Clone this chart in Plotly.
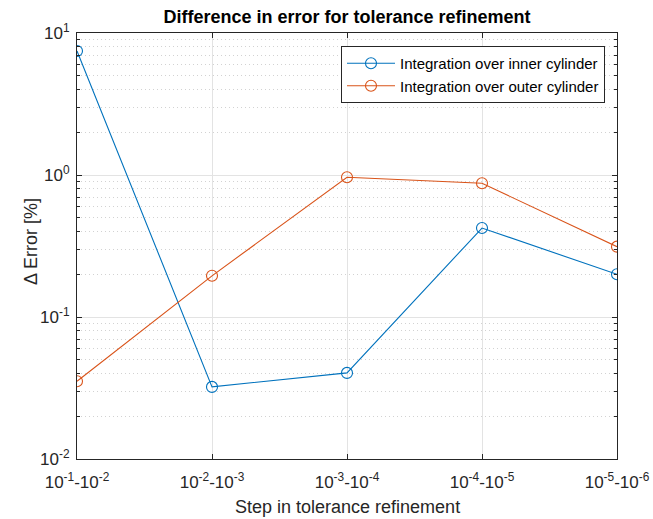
import plotly.graph_objects as go

# Tolerance refinement steps (categories on the x axis)
steps = [
    "10<sup>-1</sup>-10<sup>-2</sup>",
    "10<sup>-2</sup>-10<sup>-3</sup>",
    "10<sup>-3</sup>-10<sup>-4</sup>",
    "10<sup>-4</sup>-10<sup>-5</sup>",
    "10<sup>-5</sup>-10<sup>-6</sup>",
]
step_pos = [1, 2, 3, 4, 5]

# Difference in error [%] between successive tolerances
inner_cylinder = [7.47, 0.0322, 0.0404, 0.423, 0.200]
outer_cylinder = [0.0353, 0.195, 0.964, 0.874, 0.313]

y_tickvals = [0.01, 0.1, 1, 10]
y_ticktext = ["10<sup>-2</sup>", "10<sup>-1</sup>", "10<sup>0</sup>", "10<sup>1</sup>"]

BLUE = "#0072BD"
ORANGE = "#D95319"
AXIS = "#262626"
FONT = "Liberation Sans, Arial, Helvetica, sans-serif"

# plot-area placement in pixels
L, R, T, B = 77, 36, 33, 60
W, H = 653, 519
PW, PH = W - L - R, H - T - B

fig = go.Figure()
fig.add_trace(go.Scatter(
    x=step_pos, y=inner_cylinder, mode="lines+markers",
    name="Integration over inner cylinder",
    line=dict(color=BLUE, width=1.1),
    marker=dict(symbol="circle-open", size=11, color=BLUE, line=dict(width=1.1)),
))
fig.add_trace(go.Scatter(
    x=step_pos, y=outer_cylinder, mode="lines+markers",
    name="Integration over outer cylinder",
    line=dict(color=ORANGE, width=1.1),
    marker=dict(symbol="circle-open", size=11, color=ORANGE, line=dict(width=1.1)),
))

fig.update_layout(
    width=W, height=H,
    margin=dict(l=L, r=R, t=T, b=B, autoexpand=False),
    paper_bgcolor="white", plot_bgcolor="white",
    font=dict(family=FONT, color=AXIS, size=15),
    title=dict(
        text="<b>Difference in error for tolerance refinement</b>",
        x=(L + PW / 2) / W, xanchor="center",
        y=1 - 17 / H, yanchor="middle",
        font=dict(size=18, color="black"),
    ),
    showlegend=True,
    legend=dict(
        x=(605 - L) / PW, xanchor="right",
        y=1 - (46 - T) / PH, yanchor="top",
        bgcolor="white", bordercolor=AXIS, borderwidth=1,
        font=dict(size=15, color="black"),
        tracegroupgap=0, itemwidth=48,
    ),
    xaxis=dict(
        range=[1, 5], tickvals=step_pos, ticktext=steps,
        automargin=False,
        showline=True, linecolor=AXIS, linewidth=1, mirror="ticks",
        ticks="inside", ticklen=5, tickcolor=AXIS,
        showgrid=True, gridcolor="#e3e3e3", gridwidth=1,
        zeroline=False,
        tickfont=dict(size=17, color=AXIS),
        ticklabelstandoff=8,
    ),
    yaxis=dict(
        type="log", range=[-2, 1],
        tickvals=y_tickvals, ticktext=y_ticktext,
        automargin=False,
        showline=True, linecolor=AXIS, linewidth=1, mirror="ticks",
        ticks="inside", ticklen=5, tickcolor=AXIS,
        showgrid=True, gridcolor="#e3e3e3", gridwidth=1,
        zeroline=False,
        tickfont=dict(size=17, color=AXIS),
        ticklabelstandoff=3,
        minor=dict(
            tickvals=[m * 10 ** e for e in (-2, -1, 0) for m in range(2, 10)],
            ticks="inside", ticklen=3, tickcolor=AXIS,
            showgrid=True, gridcolor="#d2d2d2", griddash="1px,3px", gridwidth=1,
        ),
    ),
    annotations=[
        dict(
            text="Step in tolerance refinement",
            xref="paper", yref="paper",
            x=0.5, y=-(507 - (H - B)) / PH,
            xanchor="center", yanchor="middle", showarrow=False,
            font=dict(size=18, color=AXIS),
        ),
        dict(
            text="Δ Error [%]",
            xref="paper", yref="paper",
            x=-(L - 31) / PW, y=1 - (242 - T) / PH,
            xanchor="center", yanchor="middle", showarrow=False,
            textangle=-90,
            font=dict(size=18, color=AXIS),
        ),
    ],
)

fig.write_html("out.html")
